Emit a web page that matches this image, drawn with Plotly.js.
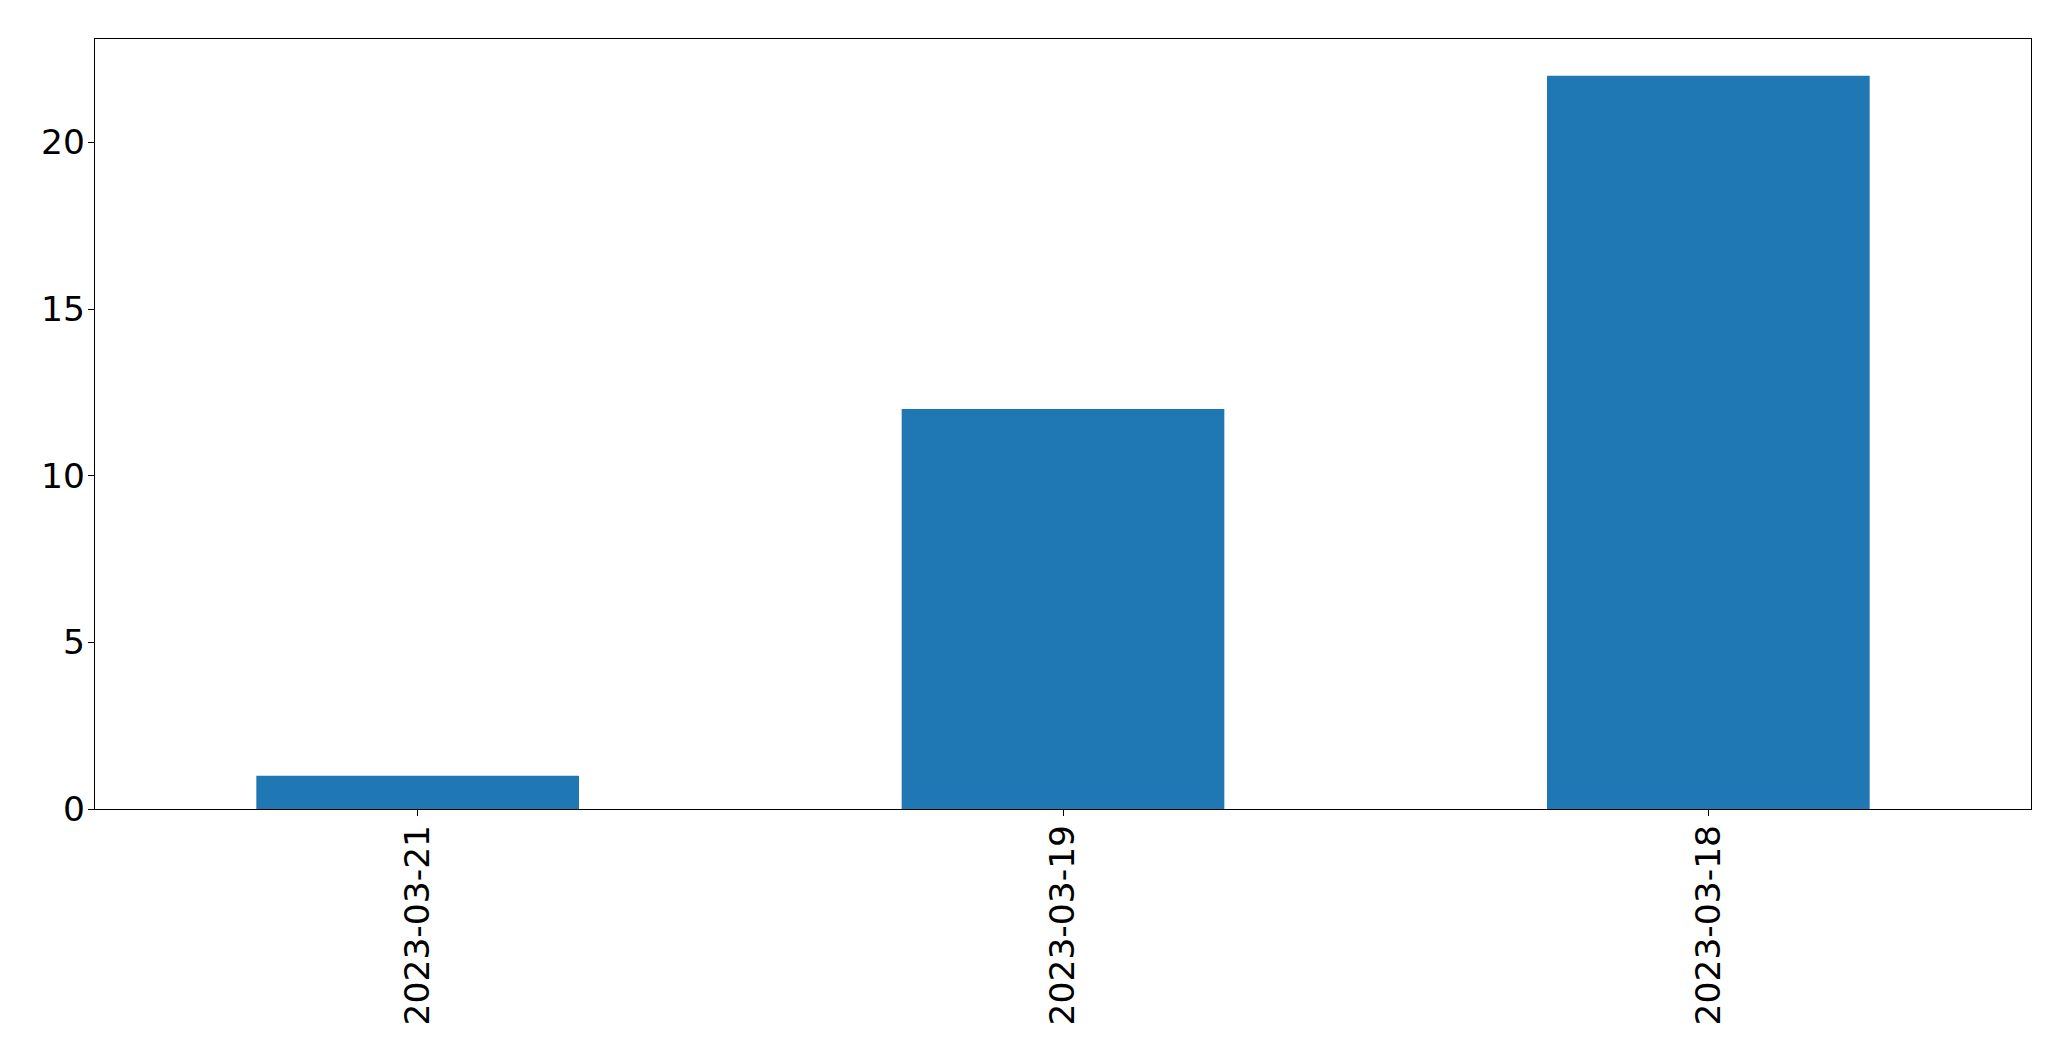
<!DOCTYPE html>
<html>
<head>
<meta charset="utf-8">
<script src="https://cdn.plot.ly/plotly-3.0.1.min.js"></script>
<style>
  html, body { margin: 0; padding: 0; background: #fff; }
  #chart { width: 2071px; height: 1061px; }
</style>
</head>
<body>
<div id="chart"></div>
<script>
const dates = ["2023-03-21", "2023-03-19", "2023-03-18"];
const counts = [1, 12, 22];
const yTicks = [0, 5, 10, 15, 20];

const axisFont = { family: "DejaVu Sans, sans-serif", size: 34.5, color: "#000" };

Plotly.newPlot("chart", [{
  x: dates, y: counts, type: "bar", width: 0.5,
  marker: { color: "#1f77b4", line: { width: 0 } },
  hoverinfo: "x+y"
}], {
  width: 2071, height: 1061,
  margin: { l: 95, r: 40, t: 39, b: 252 },
  paper_bgcolor: "#fff", plot_bgcolor: "#fff",
  showlegend: false,
  xaxis: {
    type: "category", range: [-0.5, 2.5],
    showline: true, mirror: true, linecolor: "#000", linewidth: 1.3,
    ticks: "outside", ticklen: 6, tickwidth: 1.3, tickcolor: "#000",
    tickangle: -90, tickfont: axisFont, showgrid: false, zeroline: false,
    ticklabelstandoff: -5
  },
  yaxis: {
    range: [0, 23.1], tickvals: yTicks, ticktext: yTicks.map(String),
    showline: true, mirror: true, linecolor: "#000", linewidth: 1.3,
    ticks: "outside", ticklen: 6, tickwidth: 1.3, tickcolor: "#000",
    tickfont: axisFont, showgrid: false, zeroline: false,
    ticklabelstandoff: -4
  }
}, { displayModeBar: false, responsive: false });
</script>
</body>
</html>
